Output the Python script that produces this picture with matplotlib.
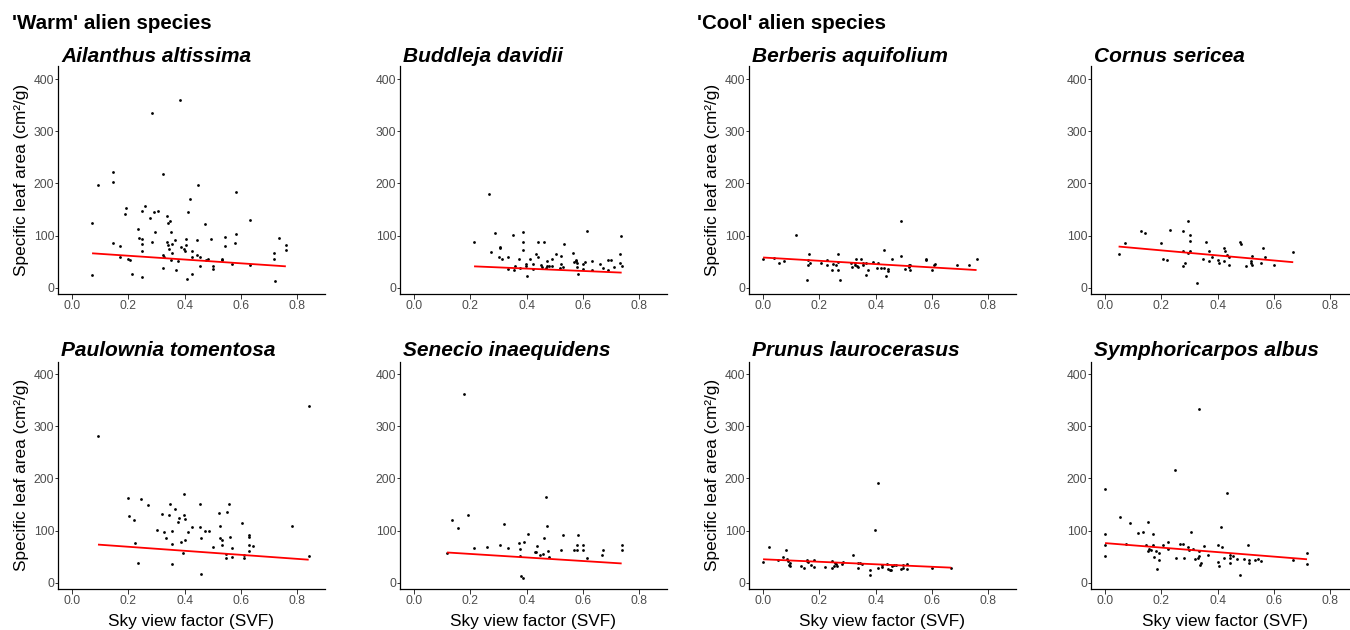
import matplotlib
matplotlib.use("Agg")
import matplotlib.pyplot as plt
import numpy as np

plt.rcParams["font.family"] = ["Liberation Sans", "DejaVu Sans"]

# ---- data: sky view factor (SVF) and specific leaf area (cm²/g) per species ----
species = ["Ailanthus altissima", "Buddleja davidii", "Berberis aquifolium", "Cornus sericea",
           "Paulownia tomentosa", "Senecio inaequidens", "Prunus laurocerasus", "Symphoricarpos albus"]

svf_ailanthus = [0.071, 0.071, 0.093, 0.144, 0.144, 0.146, 0.171, 0.171, 0.191, 0.188, 0.200, 0.205,
                 0.214, 0.233, 0.237, 0.248, 0.250, 0.250, 0.250, 0.248, 0.258, 0.276, 0.284, 0.285,
                 0.292, 0.294, 0.304, 0.322, 0.322, 0.322, 0.328, 0.336, 0.340, 0.336, 0.341, 0.345,
                 0.349, 0.352, 0.354, 0.354, 0.352, 0.367, 0.368, 0.376, 0.384, 0.387, 0.398, 0.400,
                 0.404, 0.406, 0.408, 0.411, 0.418, 0.427, 0.427, 0.427, 0.444, 0.445, 0.446, 0.453,
                 0.453, 0.473, 0.476, 0.481, 0.492, 0.499, 0.499, 0.533, 0.533, 0.544, 0.544, 0.569,
                 0.580, 0.582, 0.582, 0.632, 0.632, 0.716, 0.716, 0.720, 0.735, 0.759, 0.759]
sla_ailanthus = [25, 125, 196, 221, 202, 85, 80, 59, 152, 142, 56, 53,
                 27, 112, 95, 147, 93, 83, 71, 21, 157, 133, 87, 335,
                 145, 106, 148, 218, 62, 38, 58, 138, 124, 87, 81, 74,
                 128, 106, 83, 67, 53, 92, 34, 51, 360, 78, 75, 70,
                 81, 93, 16, 145, 170, 71, 58, 27, 63, 91, 196, 41,
                 59, 123, 53, 55, 94, 42, 36, 56, 54, 97, 80, 46,
                 86, 103, 183, 129, 43, 66, 56, 12, 96, 81, 72]

svf_buddleja = [0.213, 0.265, 0.274, 0.286, 0.304, 0.304, 0.300, 0.312, 0.333, 0.334, 0.350, 0.354,
                0.357, 0.371, 0.375, 0.388, 0.388, 0.388, 0.398, 0.398, 0.400, 0.410, 0.423, 0.423,
                0.434, 0.439, 0.441, 0.451, 0.455, 0.461, 0.468, 0.471, 0.473, 0.478, 0.489, 0.490,
                0.503, 0.517, 0.521, 0.523, 0.529, 0.531, 0.565, 0.567, 0.574, 0.576, 0.577, 0.577,
                0.581, 0.598, 0.600, 0.607, 0.613, 0.631, 0.632, 0.659, 0.669, 0.687, 0.689, 0.698,
                0.711, 0.730, 0.731, 0.736, 0.737]
sla_buddleja = [88, 179, 68, 105, 78, 76, 58, 56, 58, 35, 102, 34,
                42, 55, 38, 106, 87, 73, 45, 42, 22, 56, 45, 36,
                64, 88, 58, 43, 40, 88, 38, 42, 51, 42, 42, 55,
                64, 38, 60, 45, 39, 84, 67, 50, 54, 51, 48, 40,
                26, 35, 46, 49, 109, 51, 34, 46, 37, 53, 34, 53,
                40, 64, 47, 99, 42]

svf_berberis = [0.000, 0.037, 0.055, 0.076, 0.118, 0.156, 0.160, 0.160, 0.163, 0.166, 0.206, 0.227,
                0.227, 0.246, 0.247, 0.260, 0.265, 0.265, 0.265, 0.273, 0.312, 0.315, 0.325, 0.328,
                0.331, 0.334, 0.337, 0.349, 0.353, 0.355, 0.364, 0.364, 0.371, 0.392, 0.406, 0.409,
                0.417, 0.430, 0.431, 0.436, 0.445, 0.445, 0.459, 0.488, 0.488, 0.505, 0.518, 0.518,
                0.521, 0.522, 0.577, 0.577, 0.598, 0.607, 0.609, 0.689, 0.732, 0.758]
sla_berberis = [55, 57, 48, 52, 102, 15, 53, 43, 65, 48, 48, 54,
                44, 34, 45, 43, 65, 50, 34, 15, 47, 40, 44, 48,
                55, 42, 40, 55, 44, 48, 48, 25, 34, 49, 38, 48,
                38, 37, 73, 23, 35, 32, 55, 127, 60, 36, 44, 40,
                44, 34, 55, 53, 34, 43, 45, 43, 44, 56]

svf_cornus = [0.048, 0.070, 0.126, 0.142, 0.197, 0.205, 0.220, 0.231, 0.275, 0.276, 0.276, 0.283,
              0.293, 0.294, 0.301, 0.301, 0.302, 0.326, 0.347, 0.357, 0.369, 0.369, 0.378, 0.401,
              0.406, 0.422, 0.423, 0.425, 0.432, 0.439, 0.440, 0.479, 0.484, 0.501, 0.517, 0.517,
              0.520, 0.520, 0.553, 0.562, 0.569, 0.600, 0.668]
sla_cornus = [65, 85, 109, 105, 85, 55, 53, 110, 109, 71, 41, 47,
              127, 67, 90, 102, 71, 10, 56, 87, 71, 51, 59, 53,
              47, 51, 77, 71, 63, 44, 58, 87, 84, 41, 51, 47,
              60, 44, 47, 76, 58, 44, 69]

svf_paulownia = [0.092, 0.198, 0.201, 0.219, 0.222, 0.233, 0.244, 0.271, 0.302, 0.319, 0.328, 0.333,
                 0.344, 0.346, 0.353, 0.356, 0.356, 0.364, 0.375, 0.381, 0.386, 0.393, 0.396, 0.399,
                 0.400, 0.400, 0.413, 0.426, 0.454, 0.455, 0.456, 0.459, 0.472, 0.485, 0.501, 0.522,
                 0.524, 0.524, 0.534, 0.534, 0.545, 0.545, 0.550, 0.558, 0.559, 0.567, 0.568, 0.602,
                 0.611, 0.611, 0.627, 0.627, 0.627, 0.627, 0.642, 0.780, 0.840, 0.840]
sla_paulownia = [281, 162, 127, 121, 77, 37, 160, 149, 102, 132, 98, 85,
                 130, 151, 35, 100, 75, 141, 117, 125, 79, 57, 129, 170,
                 123, 82, 98, 106, 106, 151, 17, 85, 100, 100, 69, 133,
                 109, 86, 81, 73, 56, 47, 136, 151, 88, 66, 50, 114,
                 54, 47, 91, 88, 73, 60, 70, 109, 339, 51]

svf_senecio = [0.117, 0.136, 0.157, 0.179, 0.191, 0.213, 0.259, 0.304, 0.320, 0.334, 0.372, 0.376,
               0.376, 0.380, 0.387, 0.390, 0.404, 0.429, 0.434, 0.437, 0.446, 0.457, 0.463, 0.469,
               0.472, 0.474, 0.478, 0.522, 0.528, 0.568, 0.578, 0.578, 0.583, 0.598, 0.598, 0.615,
               0.668, 0.671, 0.737, 0.737]
sla_senecio = [57, 121, 105, 361, 130, 66, 68, 72, 112, 67, 76, 65,
               51, 13, 9, 79, 93, 58, 58, 70, 54, 56, 86, 165,
               109, 60, 50, 62, 91, 62, 62, 72, 92, 72, 62, 47,
               54, 62, 73, 62]

svf_prunus = [0.000, 0.021, 0.054, 0.069, 0.083, 0.086, 0.088, 0.091, 0.096, 0.097, 0.135, 0.144,
              0.155, 0.156, 0.159, 0.170, 0.182, 0.182, 0.219, 0.246, 0.246, 0.252, 0.255, 0.260,
              0.264, 0.281, 0.283, 0.319, 0.338, 0.338, 0.343, 0.352, 0.381, 0.381, 0.398, 0.407,
              0.408, 0.421, 0.423, 0.441, 0.445, 0.449, 0.453, 0.458, 0.466, 0.472, 0.488, 0.498,
              0.498, 0.511, 0.512, 0.600, 0.668]
sla_prunus = [39, 68, 43, 50, 62, 45, 42, 34, 37, 33, 33, 29,
              43, 41, 39, 34, 43, 31, 31, 41, 29, 33, 37, 36,
              32, 36, 39, 53, 38, 29, 37, 36, 24, 15, 102, 192,
              29, 31, 34, 35, 27, 24, 24, 33, 34, 34, 26, 34,
              29, 35, 26, 28, 29]

svf_symphoricarpos = [0.000, 0.000, 0.000, 0.000, 0.052, 0.073, 0.090, 0.117, 0.135, 0.144, 0.151, 0.151,
                      0.156, 0.162, 0.169, 0.170, 0.175, 0.182, 0.183, 0.190, 0.191, 0.205, 0.223, 0.223,
                      0.250, 0.252, 0.267, 0.275, 0.279, 0.296, 0.299, 0.305, 0.312, 0.319, 0.329, 0.333,
                      0.334, 0.335, 0.336, 0.340, 0.351, 0.367, 0.401, 0.402, 0.404, 0.411, 0.415, 0.422,
                      0.432, 0.443, 0.444, 0.445, 0.453, 0.469, 0.480, 0.492, 0.506, 0.510, 0.510, 0.531,
                      0.542, 0.553, 0.668, 0.717, 0.717]
sla_symphoricarpos = [179, 94, 73, 52, 126, 74, 114, 95, 97, 72, 116, 61,
                      64, 63, 94, 72, 49, 60, 26, 43, 57, 72, 79, 65,
                      216, 47, 74, 74, 48, 68, 63, 97, 64, 46, 47, 61,
                      333, 51, 34, 37, 70, 53, 39, 72, 33, 107, 69, 48,
                      172, 54, 37, 47, 52, 46, 15, 46, 73, 43, 37, 43,
                      45, 42, 44, 57, 36]

svf_values = [svf_ailanthus, svf_buddleja, svf_berberis, svf_cornus,
              svf_paulownia, svf_senecio, svf_prunus, svf_symphoricarpos]
sla_values = [sla_ailanthus, sla_buddleja, sla_berberis, sla_cornus,
              sla_paulownia, sla_senecio, sla_prunus, sla_symphoricarpos]

# fitted SLA ~ SVF trend per species
fit_intercept = [68.6, 45.9, 58.0, 81.3, 76.7, 62.0, 45.0, 76.0]
fit_slope = [-36.3, -22.9, -31.7, -48.4, -38.7, -33.9, -24.0, -43.2]

group_titles = ["'Warm' alien species", "'Cool' alien species"]
x_ticks = [0.0, 0.2, 0.4, 0.6, 0.8]
y_ticks = [0, 100, 200, 300, 400]
x_label = "Sky view factor (SVF)"
y_label = "Specific leaf area (cm²/g)"

# ---- layout (pixel geometry of a 1350x630 canvas) ----
W, H = 1350, 630
fig = plt.figure(figsize=(W / 100, H / 100), dpi=100)

col_left = [58, 400, 749, 1091]
row_top = [66.5, 361.5]
ax_w, ax_h = 267, 227

tick_color = "#4D4D4D"

for i, name in enumerate(species):
    r, c = divmod(i, 4)
    left = col_left[c] / W
    bottom = 1 - (row_top[r] + ax_h) / H
    ax = fig.add_axes([left, bottom, ax_w / W, ax_h / H])

    x = np.array(svf_values[i])
    y = np.array(sla_values[i])
    ax.plot(x, y, linestyle="none", marker="o", ms=2.0, color="black", mew=0)

    xl = np.array([x.min(), x.max()])
    ax.plot(xl, fit_intercept[i] + fit_slope[i] * xl, color="#FF0000", lw=1.3,
            solid_capstyle="butt")

    ax.set_xlim(-0.05, 0.898)
    ax.set_ylim(-11, 424)
    ax.set_xticks(x_ticks)
    ax.set_xticklabels([f"{t:.1f}" for t in x_ticks])
    ax.set_yticks(y_ticks)

    for side in ("top", "right"):
        ax.spines[side].set_visible(False)
    for side in ("left", "bottom"):
        ax.spines[side].set_linewidth(0.9)
        ax.spines[side].set_color("black")
    ax.tick_params(axis="x", length=3.3, width=0.7, color="#333333",
                   labelsize=8.7, labelcolor=tick_color, pad=1.5)
    ax.tick_params(axis="y", length=2.2, width=0.7, color="#333333",
                   labelsize=8.7, labelcolor=tick_color, pad=0.4)

    ax.text(0.012, 1.0 + 5 / ax_h, name, transform=ax.transAxes, ha="left", va="baseline",
            fontsize=15, fontweight="bold", fontstyle="italic", color="black")

    if c in (0, 2):
        ax.set_ylabel(y_label, fontsize=12.4, color="black")
        ax.yaxis.set_label_coords(-0.135, 0.5)
        ax.yaxis.label.set_verticalalignment("center")
    if r == 1:
        ax.set_xlabel(x_label, fontsize=12.4, color="black")
        ax.xaxis.set_label_coords(0.5, -0.145)
        ax.xaxis.label.set_verticalalignment("center")

fig.text(12 / W, 1 - 29 / H, group_titles[0], ha="left", va="baseline",
         fontsize=14.8, fontweight="bold", color="black")
fig.text(697 / W, 1 - 29 / H, group_titles[1], ha="left", va="baseline",
         fontsize=14.8, fontweight="bold", color="black")

fig.savefig("out.png", dpi=100, facecolor="white")
